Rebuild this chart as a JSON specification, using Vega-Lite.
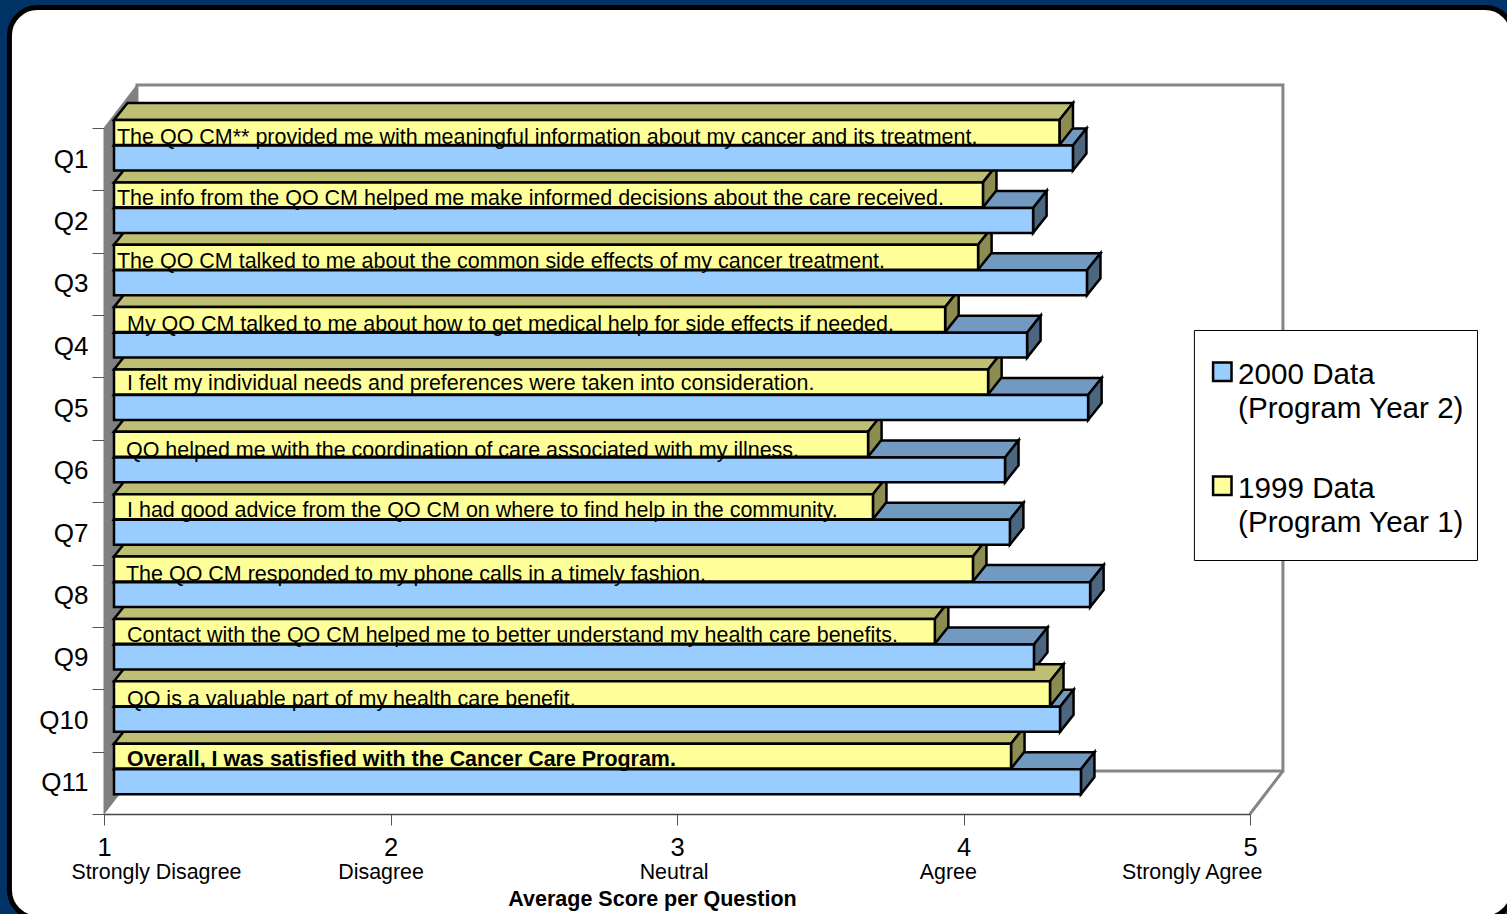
{
  "$schema": "https://vega.github.io/schema/vega-lite/v6.json",
  "width": 1146,
  "height": 686,
  "autosize": "none",
  "padding": {"left": 104, "top": 128, "right": 257, "bottom": 100},
  "background": "#003366",
  "config": {"view": {"stroke": null}, "font": "Liberation Sans"},
  "datasets": {
    "bars": [
      {"q": 1, "series": "2000 Data|(Program Year 2)", "score": 4.347},
      {"q": 2, "series": "2000 Data|(Program Year 2)", "score": 4.208},
      {"q": 3, "series": "2000 Data|(Program Year 2)", "score": 4.396},
      {"q": 4, "series": "2000 Data|(Program Year 2)", "score": 4.187},
      {"q": 5, "series": "2000 Data|(Program Year 2)", "score": 4.400},
      {"q": 6, "series": "2000 Data|(Program Year 2)", "score": 4.110},
      {"q": 7, "series": "2000 Data|(Program Year 2)", "score": 4.127},
      {"q": 8, "series": "2000 Data|(Program Year 2)", "score": 4.407},
      {"q": 9, "series": "2000 Data|(Program Year 2)", "score": 4.211},
      {"q": 10, "series": "2000 Data|(Program Year 2)", "score": 4.302},
      {"q": 11, "series": "2000 Data|(Program Year 2)", "score": 4.375},
      {"q": 1, "series": "1999 Data|(Program Year 1)", "score": 4.300},
      {"q": 2, "series": "1999 Data|(Program Year 1)", "score": 4.033},
      {"q": 3, "series": "1999 Data|(Program Year 1)", "score": 4.016},
      {"q": 4, "series": "1999 Data|(Program Year 1)", "score": 3.901},
      {"q": 5, "series": "1999 Data|(Program Year 1)", "score": 4.051},
      {"q": 6, "series": "1999 Data|(Program Year 1)", "score": 3.632},
      {"q": 7, "series": "1999 Data|(Program Year 1)", "score": 3.649},
      {"q": 8, "series": "1999 Data|(Program Year 1)", "score": 3.998},
      {"q": 9, "series": "1999 Data|(Program Year 1)", "score": 3.865},
      {"q": 10, "series": "1999 Data|(Program Year 1)", "score": 4.267},
      {"q": 11, "series": "1999 Data|(Program Year 1)", "score": 4.131}
    ],
    "questions": [
      {"q": 1, "text": "The QO CM** provided me with meaningful information about my cancer and its treatment.", "atScore": 1.0454, "atRow": 0.25},
      {"q": 2, "text": "The info from the QO CM helped me make informed decisions about the care received.", "atScore": 1.0454, "atRow": 1.2348},
      {"q": 3, "text": "The QO CM talked to me about the common side effects of my cancer treatment.", "atScore": 1.0454, "atRow": 2.245},
      {"q": 4, "text": "My QO CM talked to me about how to get medical help for side effects if needed.", "atScore": 1.0803, "atRow": 3.255},
      {"q": 5, "text": "I felt my individual needs and preferences were taken into consideration.", "atScore": 1.0803, "atRow": 4.201},
      {"q": 6, "text": "QO helped me with the coordination of care associated with my illness.", "atScore": 1.0768, "atRow": 5.276},
      {"q": 7, "text": "I had good advice from the QO CM on where to find help in the community.", "atScore": 1.0803, "atRow": 6.238},
      {"q": 8, "text": "The QO CM responded to my phone calls in a timely fashion.", "atScore": 1.0768, "atRow": 7.264},
      {"q": 9, "text": "Contact with the QO CM helped me to better understand my health care benefits.", "atScore": 1.0803, "atRow": 8.242},
      {"q": 10, "text": "QO is a valuable part of my health care benefit.", "atScore": 1.0803, "atRow": 9.269},
      {"q": 11, "text": "Overall, I was satisfied with the Cancer Care Program.", "atScore": 1.0803, "atRow": 10.231}
    ],
    "scaleWords": [
      {"word": "Strongly Disagree", "atScore": 1.183},
      {"word": "Disagree", "atScore": 1.967},
      {"word": "Neutral", "atScore": 2.99},
      {"word": "Agree", "atScore": 3.947},
      {"word": "Strongly Agree", "atScore": 4.798}
    ],
    "sideWall": [
      {"n": 0, "s": 1, "r": 0},
      {"n": 1, "s": 1.115, "r": -0.69},
      {"n": 2, "s": 1.115, "r": 10.31},
      {"n": 3, "s": 1, "r": 11}
    ],
    "backWall": [
      {"part": "wall", "n": 0, "s": 1.115, "r": -0.69},
      {"part": "wall", "n": 1, "s": 5.115, "r": -0.69},
      {"part": "wall", "n": 2, "s": 5.115, "r": 10.31},
      {"part": "wall", "n": 3, "s": 1.115, "r": 10.31},
      {"part": "floor", "n": 0, "s": 5, "r": 11},
      {"part": "floor", "n": 1, "s": 5.115, "r": 10.31}
    ]
  },
  "layer": [
    {
      "description": "White rounded panel on the navy page",
      "data": {"values": [{}]},
      "mark": {"type": "rect", "fill": "white", "stroke": "black", "strokeWidth": 5, "cornerRadius": 28},
      "encoding": {
        "x": {
          "datum": 0.67,
          "type": "quantitative",
          "scale": {"domain": [1, 5], "nice": false, "zero": false},
          "axis": {
            "values": [1, 2, 3, 4, 5],
            "format": "d",
            "grid": false,
            "zindex": 1,
            "title": "Average Score per Question",
            "titleFont": "Liberation Sans",
            "titleFontSize": 21.5,
            "titleFontWeight": "bold",
            "titleColor": "black",
            "titleX": 548,
            "titleY": 85,
            "titleBaseline": "middle",
            "labelFontSize": 25.5,
            "labelColor": "black",
            "labelPadding": 10,
            "labelFlush": false,
            "tickSize": 11,
            "tickColor": "#555555",
            "domainColor": "#444444",
            "domainWidth": 1.5
          }
        },
        "x2": {"datum": 5.918},
        "y": {
          "datum": -1.932,
          "type": "quantitative",
          "scale": {"domain": [0, 11], "nice": false, "zero": false, "reverse": true},
          "axis": {
            "values": [0, 1, 2, 3, 4, 5, 6, 7, 8, 9, 10, 11],
            "labelExpr": "datum.value < 11 ? 'Q' + (datum.value + 1) : ''",
            "labelOffset": 31,
            "grid": false,
            "zindex": 1,
            "title": null,
            "labelFontSize": 26,
            "labelColor": "black",
            "labelPadding": 4,
            "tickSize": 12,
            "tickColor": "#555555",
            "domain": false
          }
        },
        "y2": {"datum": 12.668}
      }
    },
    {
      "description": "Back wall outline and right floor edge",
      "data": {"name": "backWall"},
      "mark": {"type": "line", "interpolate": "linear-closed", "stroke": "#868686", "strokeWidth": 3, "clip": false},
      "encoding": {
        "x": {"field": "s", "type": "quantitative"},
        "y": {"field": "r", "type": "quantitative"},
        "detail": {"field": "part"},
        "order": {"field": "n"}
      }
    },
    {
      "description": "Grey side wall",
      "data": {"name": "sideWall"},
      "mark": {"type": "line", "interpolate": "linear-closed", "fill": "#808080", "stroke": "#808080", "strokeWidth": 1},
      "encoding": {
        "x": {"field": "s", "type": "quantitative"},
        "y": {"field": "r", "type": "quantitative"},
        "order": {"field": "n"}
      }
    },
    {
      "description": "Depth faces and front faces of the bars",
      "data": {"name": "bars"},
      "transform": [
        {"calculate": "(datum.q - 1) + (indexof(datum.series, '1999') === 0 ? -0.128 : 0.282)", "as": "top"},
        {"calculate": "datum.top + 0.4", "as": "bottom"},
        {"calculate": "datum.score + 0.0472", "as": "backEnd"},
        {"calculate": "[0, 1, 2, 3]", "as": "corner"},
        {"flatten": ["corner"]},
        {"calculate": "[1, datum.score, datum.backEnd, 1.0472][datum.corner]", "as": "topX"},
        {"calculate": "[datum.top, datum.top, datum.top - 0.273, datum.top - 0.273][datum.corner]", "as": "topY"},
        {"calculate": "[datum.score, datum.backEnd, datum.backEnd, datum.score][datum.corner]", "as": "sideX"},
        {"calculate": "[datum.top, datum.top - 0.273, datum.bottom - 0.273, datum.bottom][datum.corner]", "as": "sideY"},
        {"calculate": "indexof(datum.series, '1999') === 0 ? 'y1999' : 'y2000'", "as": "year"}
      ],
      "layer": [
        {
          "transform": [{"filter": "datum.year === 'y2000'"}],
          "mark": {"type": "line", "interpolate": "linear-closed", "fill": "#7299BF", "stroke": "black", "strokeWidth": 2.5, "xOffset": 10},
          "encoding": {
            "x": {"field": "topX", "type": "quantitative"},
            "y": {"field": "topY", "type": "quantitative"},
            "detail": {"field": "q"},
            "order": {"field": "corner"}
          }
        },
        {
          "transform": [{"filter": "datum.year === 'y2000'"}],
          "mark": {"type": "line", "interpolate": "linear-closed", "fill": "#4C6680", "stroke": "black", "strokeWidth": 2.5, "xOffset": 10},
          "encoding": {
            "x": {"field": "sideX", "type": "quantitative"},
            "y": {"field": "sideY", "type": "quantitative"},
            "detail": {"field": "q"},
            "order": {"field": "corner"}
          }
        },
        {
          "transform": [{"filter": "datum.year === 'y1999'"}],
          "mark": {"type": "line", "interpolate": "linear-closed", "fill": "#BFBF73", "stroke": "black", "strokeWidth": 2.5, "xOffset": 10},
          "encoding": {
            "x": {"field": "topX", "type": "quantitative"},
            "y": {"field": "topY", "type": "quantitative"},
            "detail": {"field": "q"},
            "order": {"field": "corner"}
          }
        },
        {
          "transform": [{"filter": "datum.year === 'y1999'"}],
          "mark": {"type": "line", "interpolate": "linear-closed", "fill": "#8C8C50", "stroke": "black", "strokeWidth": 2.5, "xOffset": 10},
          "encoding": {
            "x": {"field": "sideX", "type": "quantitative"},
            "y": {"field": "sideY", "type": "quantitative"},
            "detail": {"field": "q"},
            "order": {"field": "corner"}
          }
        },
        {
          "transform": [{"filter": "datum.corner === 0"}],
          "mark": {"type": "rect", "stroke": "black", "strokeWidth": 2.5, "xOffset": 10},
          "encoding": {
            "x": {"field": "score", "type": "quantitative"},
            "x2": {"datum": 1.0349},
            "y": {"field": "top", "type": "quantitative"},
            "y2": {"field": "bottom"},
            "color": {
              "field": "series",
              "type": "nominal",
              "scale": {
                "domain": ["2000 Data|(Program Year 2)", "1999 Data|(Program Year 1)"],
                "range": ["#99CCFF", "#FFFF99"]
              },
              "legend": {
                "title": null,
                "orient": "none",
                "legendX": 1103.5,
                "legendY": 229,
                "labelExpr": "split(datum.label, '|')",
                "labelFontSize": 29.6,
                "labelColor": "black",
                "labelLimit": 400,
                "labelBaseline": "top",
                "labelOffset": 1,
                "symbolType": "square",
                "symbolSize": 340,
                "symbolStrokeColor": "black",
                "symbolStrokeWidth": 2.5,
                "symbolOpacity": 1,
                "rowPadding": 47,
                "encode": {"labels": {"update": {"lineHeight": {"value": 34}, "dy": {"value": -11}}}}
              }
            }
          }
        }
      ]
    },
    {
      "description": "Question wording over the 1999 bars",
      "data": {"name": "questions"},
      "transform": [{"filter": "datum.q < 11"}],
      "mark": {"type": "text", "align": "left", "baseline": "alphabetic", "fontSize": 21.47, "font": "Liberation Sans", "color": "black"},
      "encoding": {
        "x": {"field": "atScore", "type": "quantitative"},
        "y": {"field": "atRow", "type": "quantitative"},
        "text": {"field": "text"}
      }
    },
    {
      "description": "Overall question in bold",
      "data": {"name": "questions"},
      "transform": [{"filter": "datum.q === 11"}],
      "mark": {"type": "text", "align": "left", "baseline": "alphabetic", "fontSize": 21.43, "fontWeight": "bold", "font": "Liberation Sans", "color": "black"},
      "encoding": {
        "x": {"field": "atScore", "type": "quantitative"},
        "y": {"field": "atRow", "type": "quantitative"},
        "text": {"field": "text"}
      }
    },
    {
      "description": "Wording of the answer scale under the axis numbers",
      "data": {"name": "scaleWords"},
      "mark": {"type": "text", "align": "center", "baseline": "middle", "fontSize": 21.4, "font": "Liberation Sans", "color": "black"},
      "encoding": {
        "x": {"field": "atScore", "type": "quantitative"},
        "y": {"datum": 11.95, "type": "quantitative"},
        "text": {"field": "word"}
      }
    },
    {
      "description": "Legend box",
      "data": {"values": [{}]},
      "mark": {"type": "rect", "fill": "white", "stroke": "black", "strokeWidth": 1},
      "encoding": {
        "x": {"datum": 4.806, "type": "quantitative"},
        "x2": {"datum": 5.794},
        "y": {"datum": 3.247, "type": "quantitative"},
        "y2": {"datum": 6.935}
      }
    }
  ]
}
